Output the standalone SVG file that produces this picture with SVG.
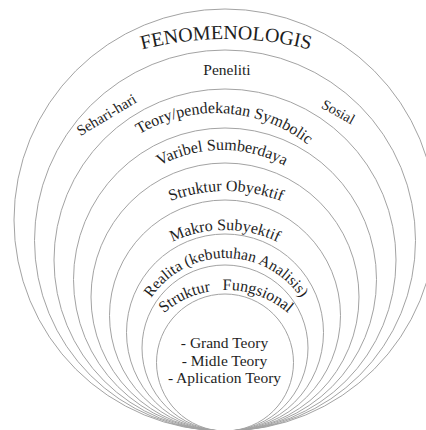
<svg xmlns="http://www.w3.org/2000/svg" width="426" height="430" viewBox="0 0 426 430">
<style>
.ring{fill:none;stroke:#a3a3a3;stroke-width:1}
.t{font-family:"Liberation Serif","DejaVu Serif",serif;fill:#1e1e1e;font-size:16px}
</style>
<defs>
<path id="p-fen" d="M-114,379 A340,340 0 0 1 566,379"/>
<path id="p-teory" d="M67,262 A149,149 0 0 1 365,262"/>
<path id="p-var" d="M90,282 A132,132 0 0 1 354,282"/>
<path id="p-struk" d="M70,347 A156,156 0 0 1 382,347"/>
<path id="p-makro" d="M102,353 A123,123 0 0 1 348,353"/>
<path id="p-real" d="M136,348 A90,90 0 0 1 316,348"/>
<path id="p-fung" d="M131,385 A95,95 0 0 1 321,385"/>
</defs>
<rect width="426" height="430" fill="#fff"/>
<g id="ring1">
<circle class="ring" cx="225" cy="220" r="211"/>
<text class="t" font-family="Liberation Serif, serif" style="font-size:20px" text-anchor="middle"><textPath href="#p-fen" startOffset="50%">FENOMENOLOGIS</textPath></text>
</g>
<g id="ring2">
<circle class="ring" cx="225" cy="240.5" r="190.5"/>
<text class="t" font-family="Liberation Serif, serif" style="font-size:15.5px" x="227" y="75" text-anchor="middle">Peneliti</text>
<text class="t" font-family="Liberation Serif, serif" style="font-size:15px" text-anchor="middle" transform="translate(109,119) rotate(-31)">Sehari-hari</text>
<text class="t" font-family="Liberation Serif, serif" style="font-size:14.5px" text-anchor="middle" transform="translate(336,116) rotate(29)">Sosial</text>
</g>
<g id="ring3">
<circle class="ring" cx="225" cy="260" r="171"/>
<text class="t" font-family="Liberation Serif, serif" text-anchor="middle"><textPath href="#p-teory" startOffset="243.1">Teory/pendekatan Symbolic</textPath></text>
</g>
<g id="ring4">
<circle class="ring" cx="225" cy="279.5" r="151.5"/>
<text class="t" font-family="Liberation Serif, serif" text-anchor="middle"><textPath href="#p-var" startOffset="50%">Varibel Sumberdaya</textPath></text>
</g>
<g id="ring5">
<circle class="ring" cx="225" cy="297" r="134"/>
<text class="t" font-family="Liberation Serif, serif" text-anchor="middle"><textPath href="#p-struk" startOffset="50%">Struktur Obyektif</textPath></text>
</g>
<g id="ring6">
<circle class="ring" cx="225" cy="315.5" r="115.5"/>
<text class="t" font-family="Liberation Serif, serif" text-anchor="middle"><textPath href="#p-makro" startOffset="50%">Makro Subyektif</textPath></text>
</g>
<g id="ring7">
<circle class="ring" cx="225" cy="332.5" r="98.5"/>
<text class="t" font-family="Liberation Serif, serif" style="font-size:15.5px" text-anchor="middle"><textPath href="#p-real" startOffset="50%">Realita (kebutuhan Analisis)</textPath></text>
</g>
<g id="ring8">
<circle class="ring" cx="225" cy="348" r="83"/>
<text class="t" font-family="Liberation Serif, serif" text-anchor="middle"><textPath href="#p-fung" startOffset="50%">Struktur&#160;&#160; Fungsional</textPath></text>
</g>
<g id="ring9">
<circle class="ring" cx="225" cy="362.5" r="68.5"/>
<text class="t" font-family="Liberation Serif, serif" style="font-size:15.5px" text-anchor="middle"><tspan x="224.5" y="348">- Grand Teory</tspan><tspan x="224.5" y="365.5">- Midle Teory</tspan><tspan x="224.5" y="383">- Aplication Teory</tspan></text>
</g>
</svg>
